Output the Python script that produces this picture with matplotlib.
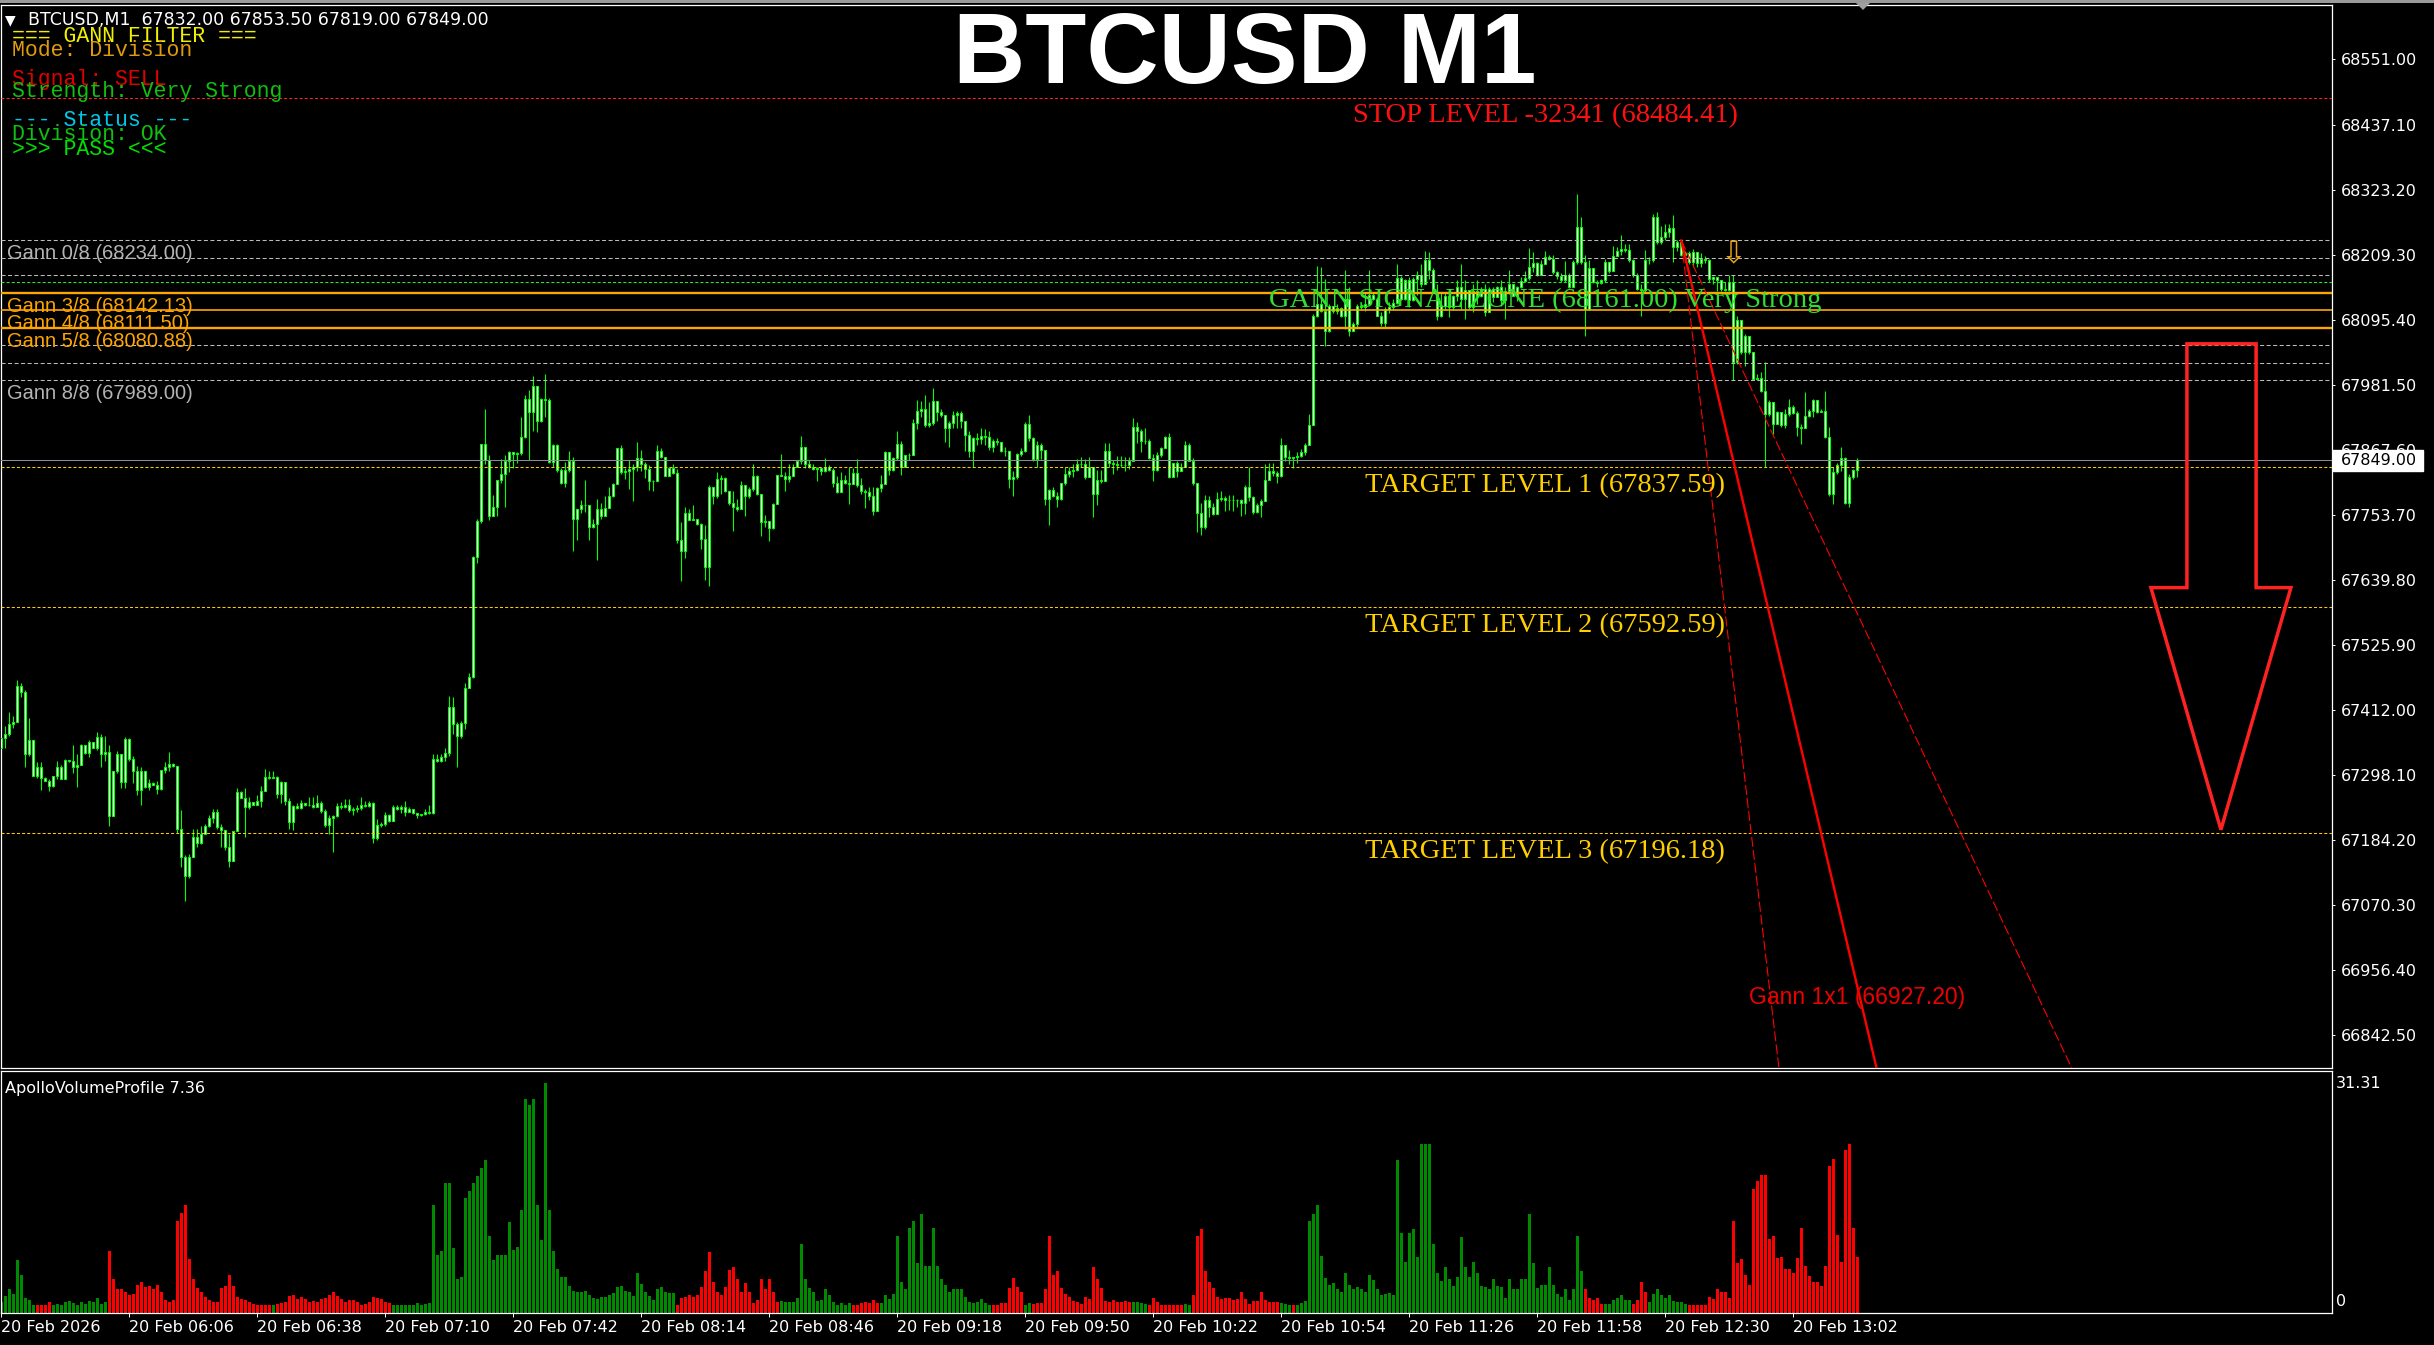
import numpy as np
import matplotlib
matplotlib.use("Agg")
import matplotlib.pyplot as plt
import matplotlib.transforms as mtransforms
from matplotlib.patches import Polygon, Rectangle

plt.rcParams["font.family"] = "DejaVu Sans"
plt.rcParams["lines.scale_dashes"] = False

# ---------------- data ----------------
symbol = "BTCUSD"
timeframe = "M1"
last_ohlc = [67832.00, 67853.50, 67819.00, 67849.00]
first_open = 67345

# one value per M1 bar, 05:34 -> 13:18
closes = [
    67363, 67369, 67387, 67390, 67453, 67444, 67335, 67360, 67296, 67311,
    67293, 67288, 67278, 67296, 67312, 67290, 67325, 67322, 67311, 67316,
    67351, 67337, 67355, 67346, 67364, 67334, 67338, 67226, 67305, 67334,
    67286, 67361, 67326, 67305, 67272, 67305, 67276, 67284, 67281, 67274,
    67306, 67312, 67317, 67314, 67203, 67154, 67121, 67154, 67190, 67178,
    67195, 67209, 67222, 67233, 67206, 67201, 67172, 67147, 67200, 67268,
    67258, 67242, 67250, 67246, 67252, 67270, 67295, 67292, 67295, 67264,
    67286, 67252, 67215, 67244, 67240, 67249, 67245, 67246, 67242, 67248,
    67234, 67210, 67222, 67226, 67243, 67241, 67246, 67236, 67239, 67240,
    67246, 67244, 67248, 67187, 67210, 67212, 67228, 67218, 67241, 67238,
    67241, 67233, 67239, 67232, 67227, 67229, 67233, 67231, 67326, 67323,
    67329, 67337, 67417, 67387, 67366, 67389, 67451, 67470, 67680, 67743,
    67877, 67849,
    67752, 67768, 67815, 67825, 67847, 67863, 67860, 67862,
    67890, 67957, 67933, 67980, 67918, 67957, 67955, 67846, 67875, 67832,
    67810, 67832, 67847, 67747, 67764, 67771, 67771, 67732, 67737, 67764,
    67752, 67766, 67787, 67808, 67870, 67828, 67831, 67834, 67838, 67853,
    67842, 67834, 67813, 67812, 67865, 67855, 67821, 67836, 67827, 67710,
    67690, 67757, 67745, 67747, 67737, 67711, 67662, 67803, 67786, 67817,
    67818, 67795, 67774, 67767, 67763, 67805, 67786, 67799, 67822, 67790,
    67741, 67742, 67730, 67773, 67824, 67822, 67816, 67822, 67837, 67847,
    67873, 67842, 67838, 67834, 67836, 67831, 67837, 67832, 67809, 67794,
    67814, 67809, 67808, 67827, 67805, 67795, 67794, 67787, 67761, 67800,
    67808, 67863, 67832, 67853, 67878, 67838, 67859, 67859, 67915, 67935,
    67938, 67910, 67914, 67953, 67933, 67928, 67905, 67914, 67929, 67932,
    67917, 67894, 67865, 67888, 67886, 67892, 67889, 67872, 67883, 67881,
    67866, 67865, 67816, 67820, 67860, 67865, 67913, 67888, 67851, 67876,
    67867, 67781, 67797, 67787, 67781, 67809, 67825, 67831, 67832, 67843,
    67843, 67819, 67837, 67790, 67814, 67813, 67865, 67844, 67843, 67841,
    67841, 67840, 67848, 67907, 67900, 67882, 67883, 67853, 67832, 67859,
    67871, 67890, 67819, 67844, 67831, 67838, 67875, 67848, 67810, 67757,
    67732, 67779, 67768, 67755, 67781, 67783, 67779, 67779, 67780, 67779,
    67774, 67803, 67785, 67758, 67771, 67778, 67814, 67831, 67826, 67822,
    67875, 67854, 67853, 67854, 67857, 67863, 67876, 67911, 68102, 68123,
    68111, 68076, 68120, 68111, 68116, 68102, 68132, 68076, 68087, 68120,
    68118, 68123, 68139, 68132, 68102, 68089, 68114, 68117, 68124, 68168,
    68132, 68164, 68129, 68167, 68174, 68158, 68199, 68182, 68143, 68102,
    68120, 68137, 68117, 68137, 68152, 68132, 68147, 68117, 68146, 68137,
    68149, 68108, 68149, 68135, 68152, 68129, 68146, 68158, 68137, 68152,
    68163, 68168, 68187, 68194, 68173, 68193, 68205, 68202, 68178, 68171,
    68165, 68174, 68153, 68196, 68258, 68196, 68114, 68186, 68161, 68159,
    68164, 68196, 68180, 68206, 68216, 68219, 68218, 68199, 68173, 68149,
    68147, 68199, 68199, 68275, 68231, 68240, 68248, 68255, 68222, 68231,
    68208, 68212, 68196, 68213, 68194, 68202, 68199, 68167, 68170, 68165,
    68149, 68147, 68161, 68021, 68094, 68038, 68066, 68038, 67991, 67994,
    67970, 67930, 67951, 67913, 67933, 67910, 67930, 67942, 67931, 67907,
    67906, 67927, 67936, 67954, 67933, 67936, 67889, 67790, 67829, 67840,
    67853, 67775, 67820, 67832, 67849,
]

highs = [
    67363, 67384, 67408, 67402, 67465, 67459, 67447, 67398, 67360, 67320,
    67320, 67294, 67290, 67296, 67323, 67316, 67326, 67325, 67351, 67335,
    67352, 67349, 67360, 67352, 67373, 67369, 67367, 67351, 67305, 67340,
    67334, 67364, 67363, 67331, 67314, 67311, 67303, 67290, 67286, 67287,
    67306, 67320, 67338, 67318, 67311, 67236, 67157, 67159, 67203, 67204,
    67209, 67212, 67227, 67239, 67239, 67212, 67197, 67194, 67200, 67275,
    67269, 67275, 67260, 67250, 67262, 67278, 67308, 67305, 67304, 67296,
    67288, 67285, 67257, 67245, 67248, 67254, 67249, 67260, 67260, 67262,
    67252, 67239, 67228, 67228, 67248, 67250, 67256, 67256, 67241, 67245,
    67260, 67252, 67252, 67251, 67221, 67215, 67233, 67230, 67245, 67245,
    67245, 67252, 67242, 67239, 67232, 67230, 67239, 67245, 67334, 67335,
    67335, 67345, 67437, 67435, 67390, 67393, 67459, 67477, 67681, 67746,
    67877, 67939,
    67859, 67789, 67815, 67852, 67858, 67865, 67862, 67863,
    67925, 67963, 67973, 67996, 67980, 67959, 68001, 67959, 67878, 67878,
    67836, 67846, 67865, 67855, 67764, 67779, 67815, 67767, 67747, 67782,
    67774, 67786, 67802, 67809, 67871, 67875, 67836, 67849, 67843, 67881,
    67867, 67846, 67840, 67815, 67875, 67871, 67855, 67838, 67842, 67834,
    67741, 67768, 67764, 67770, 67747, 67739, 67735, 67805, 67803, 67829,
    67824, 67820, 67796, 67795, 67782, 67813, 67804, 67802, 67843, 67824,
    67790, 67754, 67743, 67774, 67824, 67860, 67828, 67843, 67842, 67849,
    67891, 67873, 67850, 67842, 67838, 67838, 67853, 67840, 67836, 67821,
    67828, 67823, 67837, 67836, 67852, 67818, 67799, 67802, 67802, 67803,
    67824, 67865, 67862, 67855, 67900, 67883, 67859, 67862, 67922, 67954,
    67953, 67963, 67951, 67976, 67953, 67938, 67928, 67917, 67935, 67936,
    67936, 67918, 67901, 67889, 67896, 67906, 67904, 67900, 67886, 67888,
    67880, 67872, 67866, 67831, 67861, 67871, 67916, 67929, 67889, 67882,
    67879, 67865, 67799, 67803, 67793, 67810, 67837, 67837, 67843, 67851,
    67855, 67851, 67855, 67838, 67832, 67832, 67880, 67879, 67850, 67857,
    67857, 67855, 67855, 67923, 67916, 67904, 67906, 67886, 67860, 67863,
    67872, 67892, 67896, 67845, 67848, 67844, 67882, 67880, 67853, 67807,
    67774, 67789, 67787, 67774, 67793, 67796, 67787, 67789, 67788, 67781,
    67781, 67805, 67838, 67787, 67775, 67781, 67843, 67844, 67844, 67830,
    67888, 67875, 67867, 67855, 67863, 67869, 67880, 67930, 68105, 68190,
    68188, 68167, 68123, 68118, 68123, 68117, 68182, 68152, 68091, 68123,
    68126, 68143, 68182, 68142, 68135, 68108, 68117, 68126, 68132, 68193,
    68171, 68167, 68170, 68170, 68181, 68193, 68215, 68213, 68186, 68158,
    68143, 68142, 68140, 68139, 68164, 68192, 68164, 68146, 68158, 68164,
    68153, 68158, 68152, 68153, 68155, 68164, 68152, 68182, 68158, 68155,
    68170, 68181, 68221, 68213, 68196, 68199, 68215, 68208, 68208, 68181,
    68177, 68198, 68177, 68199, 68316, 68275, 68208, 68199, 68186, 68164,
    68167, 68202, 68196, 68225, 68222, 68243, 68228, 68228, 68202, 68177,
    68158, 68218, 68205, 68281, 68284, 68260, 68263, 68263, 68279, 68235,
    68234, 68215, 68215, 68219, 68206, 68212, 68206, 68202, 68171, 68170,
    68164, 68161, 68173, 68173, 68102, 68093, 68071, 68067, 68038, 68000,
    68003, 68021, 67954, 67947, 67936, 67933, 67939, 67956, 67945, 67936,
    67913, 67968, 67939, 67956, 67954, 67939, 67971, 67907, 67837, 67845,
    67872, 67855, 67825, 67834, 67853.5,
]

lows = [
    67345, 67345, 67366, 67381, 67390, 67435, 67312, 67332, 67296, 67293,
    67272, 67287, 67269, 67276, 67290, 67290, 67290, 67320, 67302, 67277,
    67316, 67335, 67329, 67345, 67341, 67312, 67323, 67209, 67226, 67302,
    67275, 67275, 67323, 67284, 67263, 67246, 67275, 67272, 67280, 67264,
    67272, 67302, 67305, 67311, 67197, 67136, 67077, 67118, 67157, 67172,
    67177, 67194, 67207, 67213, 67203, 67171, 67166, 67136, 67147, 67203,
    67257, 67190, 67239, 67245, 67248, 67241, 67269, 67290, 67292, 67258,
    67248, 67245, 67204, 67201, 67239, 67238, 67244, 67244, 67240, 67244,
    67232, 67207, 67194, 67163, 67224, 67239, 67240, 67233, 67227, 67233,
    67237, 67242, 67242, 67178, 67184, 67207, 67209, 67216, 67219, 67236,
    67232, 67226, 67233, 67230, 67222, 67226, 67227, 67229, 67230, 67320,
    67320, 67323, 67332, 67369, 67311, 67363, 67379, 67450, 67468, 67669,
    67740, 67843,
    67745, 67751, 67752, 67809, 67767, 67828, 67836, 67844,
    67859, 67888, 67850, 67901, 67898, 67916, 67925, 67844, 67837, 67828,
    67808, 67802, 67828, 67690, 67710, 67756, 67758, 67709, 67731, 67674,
    67747, 67751, 67766, 67785, 67807, 67825, 67817, 67798, 67778, 67830,
    67831, 67818, 67797, 67796, 67813, 67853, 67821, 67821, 67825, 67704,
    67637, 67678, 67744, 67744, 67735, 67694, 67639, 67628, 67773, 67783,
    67790, 67793, 67770, 67725, 67760, 67763, 67752, 67783, 67796, 67789,
    67716, 67733, 67707, 67729, 67773, 67821, 67796, 67811, 67821, 67837,
    67843, 67836, 67836, 67832, 67813, 67823, 67828, 67830, 67803, 67792,
    67795, 67807, 67772, 67807, 67803, 67790, 67766, 67779, 67754, 67761,
    67793, 67807, 67824, 67831, 67850, 67824, 67838, 67850, 67862, 67903,
    67924, 67908, 67908, 67910, 67918, 67925, 67881, 67872, 67906, 67906,
    67906, 67865, 67854, 67838, 67875, 67878, 67875, 67867, 67863, 67875,
    67863, 67857, 67800, 67787, 67816, 67857, 67863, 67883, 67848, 67837,
    67851, 67771, 67736, 67784, 67767, 67779, 67805, 67819, 67820, 67830,
    67837, 67816, 67819, 67749, 67770, 67810, 67814, 67838, 67825, 67832,
    67838, 67831, 67834, 67847, 67879, 67863, 67878, 67851, 67813, 67830,
    67854, 67871, 67818, 67819, 67820, 67830, 67838, 67847, 67805, 67723,
    67719, 67729, 67749, 67753, 67758, 67778, 67761, 67762, 67761, 67768,
    67752, 67755, 67778, 67755, 67756, 67749, 67777, 67816, 67822, 67810,
    67819, 67848, 67843, 67836, 67844, 67855, 67859, 67875, 67913, 68100,
    68108, 68050, 68073, 68107, 68105, 68100, 68079, 68066, 68076, 68082,
    68114, 68111, 68122, 68129, 68101, 68085, 68083, 68107, 68112, 68123,
    68129, 68130, 68117, 68128, 68138, 68152, 68173, 68167, 68142, 68094,
    68100, 68112, 68100, 68112, 68128, 68114, 68097, 68114, 68108, 68123,
    68135, 68102, 68108, 68126, 68135, 68120, 68097, 68140, 68136, 68128,
    68151, 68163, 68164, 68178, 68171, 68173, 68193, 68199, 68175, 68167,
    68161, 68161, 68151, 68152, 68193, 68193, 68067, 68112, 68159, 68152,
    68158, 68161, 68177, 68181, 68209, 68208, 68213, 68196, 68170, 68147,
    68102, 68143, 68193, 68196, 68228, 68228, 68234, 68240, 68196, 68216,
    68206, 68196, 68193, 68188, 68188, 68187, 68194, 68161, 68158, 68146,
    68146, 68145, 68145, 67989, 68018, 68035, 68015, 68036, 67989, 67989,
    67968, 67838, 67927, 67895, 67917, 67908, 67906, 67927, 67930, 67892,
    67878, 67906, 67924, 67925, 67931, 67933, 67888, 67787, 67772, 67825,
    67831, 67772, 67767, 67816, 67819,
]

volumes = [
    1.5, 2.2, 3.1, 2.5, 7.0, 5.0, 2.0, 1.7, 1.1, 1.0,
    1.1, 1.1, 1.4, 1.1, 1.2, 1.1, 1.4, 1.6, 1.3, 1.1,
    1.4, 1.2, 1.6, 1.5, 2.0, 1.2, 1.4, 8.1, 4.5, 3.1,
    3.1, 2.7, 2.3, 2.5, 3.7, 4.0, 3.4, 3.5, 3.1, 3.7,
    2.8, 1.7, 1.4, 1.7, 12.1, 13.1, 14.2, 7.1, 4.4, 3.3,
    2.7, 2.1, 1.7, 1.5, 1.5, 3.3, 3.6, 5.0, 3.6, 2.1,
    1.8, 1.7, 1.4, 1.2, 1.1, 1.0, 1.0, 1.0, 1.1, 1.2,
    1.3, 1.5, 2.2, 2.3, 1.8, 2.1, 1.8, 1.4, 1.6, 1.4,
    1.8, 2.0, 2.3, 2.8, 2.2, 1.8, 1.4, 1.7, 1.7, 1.4,
    1.1, 1.2, 1.4, 2.1, 2.0, 1.8, 1.4, 1.3, 1.1, 1.1,
    1.1, 1.1, 1.1, 1.0, 1.3, 1.1, 1.2, 1.3, 14.1, 7.6,
    8.1, 17.0, 17.0, 8.5, 4.4, 4.7, 15.1, 16.0, 17.0, 18.0,
    19.0, 20.0, 10.1, 7.0, 7.6, 7.6, 7.6, 11.9, 8.3, 8.7,
    13.5, 28.1, 27.2, 28.1, 14.1, 9.6, 30.1, 13.5, 8.1, 5.7,
    4.7, 4.7, 3.5, 2.9, 2.7, 2.8, 2.9, 2.3, 2.0, 1.8,
    2.1, 2.1, 2.3, 2.6, 3.4, 3.6, 2.9, 2.8, 2.2, 5.2,
    3.8, 2.8, 2.2, 1.7, 3.1, 3.4, 2.8, 2.6, 2.6, 1.0,
    2.0, 2.1, 2.3, 2.1, 2.3, 3.4, 5.5, 8.0, 4.0, 2.8,
    2.3, 3.4, 5.6, 6.0, 4.4, 2.8, 3.9, 2.8, 1.3, 1.7,
    4.5, 3.1, 4.5, 2.7, 1.5, 1.6, 1.4, 1.4, 1.4, 2.0,
    9.1, 4.5, 3.3, 2.7, 1.6, 1.7, 3.1, 2.3, 1.5, 1.1,
    1.3, 1.1, 1.3, 1.0, 1.1, 1.3, 1.5, 1.3, 1.7, 1.3,
    1.3, 2.3, 1.8, 2.5, 10.1, 4.1, 3.1, 11.1, 12.1, 6.6,
    13.0, 6.1, 6.1,
    11.1, 6.1, 4.4, 3.7, 2.8, 3.1, 3.1, 3.1, 2.1, 1.4,
    1.3, 1.4, 1.8, 1.3, 1.1, 1.1, 1.1, 1.3, 1.3, 3.3,
    4.6, 3.4, 2.8, 1.0, 1.3, 1.2, 1.3, 1.3, 3.1, 10.1,
    5.0, 5.5, 3.3, 2.5, 2.1, 1.6, 1.5, 1.2, 2.1, 1.8,
    6.0, 4.4, 3.3, 1.6, 1.5, 1.7, 1.5, 1.4, 1.6, 1.5,
    1.4, 1.4, 1.3, 1.2, 1.0, 2.0, 1.5, 1.1, 1.1, 1.1,
    1.1, 1.1, 1.0, 1.2, 1.1, 2.3, 10.1, 11.0, 5.5, 4.0,
    3.3, 2.1, 1.8, 2.0, 2.0, 1.7, 1.8, 2.8, 1.8, 1.2,
    1.6, 1.6, 2.8, 1.7, 1.5, 1.4, 1.4, 1.3, 1.2, 1.1,
    1.0, 1.1, 1.3, 1.6, 12.1, 13.0, 14.1, 7.5, 4.6, 3.7,
    3.9, 3.1, 2.8, 5.2, 3.7, 3.1, 3.4, 3.1, 2.8, 5.0,
    4.3, 3.1, 2.4, 2.5, 2.6, 2.4, 20.1, 10.5, 6.7, 10.5,
    11.0, 7.4, 22.1, 22.1, 22.1, 9.1, 5.2, 4.2, 6.0, 4.4,
    3.6, 4.7, 10.0, 6.0, 4.7, 6.7, 5.2, 3.6, 3.4, 3.1,
    4.5, 3.5, 3.4, 2.0, 4.4, 3.1, 3.2, 4.4, 4.4, 13.0,
    6.5, 3.3, 3.7, 3.7, 6.0, 3.7, 2.5, 2.1, 3.1, 1.7,
    3.1, 10.1, 5.5, 3.1, 2.0, 1.7, 2.0, 1.2, 1.2, 1.2,
    1.7, 2.0, 2.3, 1.7, 1.7, 1.2, 1.7, 4.0, 2.8, 1.4,
    2.5, 3.1, 2.3, 2.0, 2.3, 1.6, 1.5, 1.4, 1.2, 1.0,
    1.1, 1.1, 1.1, 1.1, 2.1, 1.8, 3.1, 2.7, 2.7, 2.0,
    12.1, 6.6, 7.1, 5.0, 3.7, 16.2, 17.3, 18.1, 18.1, 9.7,
    10.1, 7.2, 7.4, 5.8, 5.8, 5.2, 7.2, 11.1, 6.1, 4.8,
    4.0, 4.0, 3.6, 6.1, 19.2, 20.2, 10.2, 6.7, 21.3, 22.2,
    11.1, 7.3,
]

# volume bar colours as runs (count, colour)
vol_color_runs = [
    (9, "g"), (4, "r"), (14, "g"), (41, "r"), (1, "g"), (29, "r"), (71, "g"),
    (26, "r"), (18, "g"), (7, "r"), (13, "g"),
    (15, "g"), (8, "r"), (2, "g"), (25, "r"), (4, "g"), (9, "r"), (2, "g"),
    (22, "r"), (3, "g"), (1, "r"), (72, "g"), (5, "r"), (7, "g"), (4, "r"),
    (10, "g"), (43, "r"),
]

time_labels = ["20 Feb 2026", "20 Feb 06:06", "20 Feb 06:38", "20 Feb 07:10",
               "20 Feb 07:42", "20 Feb 08:14", "20 Feb 08:46", "20 Feb 09:18",
               "20 Feb 09:50", "20 Feb 10:22", "20 Feb 10:54", "20 Feb 11:26",
               "20 Feb 11:58", "20 Feb 12:30", "20 Feb 13:02"]
bars_per_label = 32

price_ticks = [68551.00, 68437.10, 68323.20, 68209.30, 68095.40, 67981.50,
               67867.60, 67753.70, 67639.80, 67525.90, 67412.00, 67298.10,
               67184.20, 67070.30, 66956.40, 66842.50]
vol_top_label = 31.31

gann_levels = [68234.00, 68203.38, 68172.75, 68142.13, 68111.50,
               68080.88, 68050.25, 68019.63, 67989.00]
gann_labeled = [0, 3, 4, 5, 8]
signal_zone = 68161.00
signal_strength = "Very Strong"
stop_level = 68484.41
stop_points = -32341
targets = [67837.59, 67592.59, 67196.18]
current_price = 67849.00

fan_origin_bar = 420
fan_origin_price = 68234.00
fan_1x1_value = 66927.20
fan_slopes = [-29.7, -59.4, -14.85]     # 1x1, 2x1, 1x2 (price per bar)
signal_bar = 433
label_bar = 386

# big sell arrow outline (bar, price)
arrow_x = [546.4, 563.7, 563.7, 572.4, 554.9, 537.4, 546.4]
arrow_y = [68053, 68053, 67626, 67626, 67202, 67626, 67626]

panel_lines = [
    ("=== GANN FILTER ===", "#f0f000"),
    ("Mode: Division", "#e09a10"),
    ("Signal: SELL", "#e00000"),
    ("Strength: Very Strong", "#10c010"),
    ("--- Status ---", "#00c8e8"),
    ("Division: OK", "#10c010"),
    (">>> PASS <<<", "#00e000"),
]

# ---------------- figure ----------------
W, H = 2434, 1345
DPI = 100
fig = plt.figure(figsize=(W / DPI, H / DPI), dpi=DPI, facecolor="black")


def fpos(x0, y0, x1, y1):
    return [x0 / W, 1 - y1 / H, (x1 - x0) / W, (y1 - y0) / H]


ax = fig.add_axes(fpos(1, 4.5, 2332, 1068))
ax2 = fig.add_axes(fpos(1, 1071, 2332, 1313))
for a in (ax, ax2):
    a.set_facecolor("black")
    for s in a.spines.values():
        s.set_color("white")
        s.set_linewidth(0.9)
    a.set_xlim(-0.08, 582.67)

ax.set_ylim(66784.7, 68647.3)

n = min(len(closes), len(highs), len(lows))
x = np.arange(n)
c = np.array(closes[:n], dtype=float)
o = np.concatenate([[first_open], c[:-1]])
hi = np.maximum(np.array(highs[:n], dtype=float), np.maximum(o, c))
lo = np.minimum(np.array(lows[:n], dtype=float), np.minimum(o, c))

candle_green = "#00ff00"
ax.vlines(x, lo, hi, color=candle_green, linewidth=0.8, zorder=2)
ax.bar(x, np.abs(c - o), bottom=np.minimum(o, c), width=0.5,
       facecolor="white", edgecolor=candle_green, linewidth=0.75, zorder=3)

# horizontal levels
for i, lvl in enumerate(gann_levels):
    if i in (3, 4, 5):
        ax.axhline(lvl, color="#ffa500", linewidth=1.2 if i == 4 else 1.7, zorder=4)
    else:
        ax.axhline(lvl, color="#bcbcbc", linewidth=0.75, linestyle=(0, (2.9, 1.8)), zorder=4)

ax.axhline(signal_zone, color="#22ee22", linewidth=0.75, linestyle=(0, (2.2, 1.5)), zorder=4)
ax.axhline(stop_level, color="#ff2020", linewidth=0.75, linestyle=(0, (2.2, 1.5)), zorder=4)
for t in targets:
    ax.axhline(t, color="#ffcc00", linewidth=0.75, linestyle=(0, (2.2, 1.5)), zorder=4)
ax.axhline(current_price, color="#8a8c98", linewidth=0.75, zorder=4)

blend = mtransforms.blended_transform_factory(ax.transAxes, ax.transData)
for i in gann_labeled:
    col = "#ffa500" if i in (3, 4, 5) else "#b4b4b4"
    ax.annotate(f"Gann {i}/8 ({gann_levels[i]:.2f})", xy=(0, gann_levels[i]), xycoords=blend,
                xytext=(6, -19), textcoords="offset pixels", ha="left", va="baseline",
                fontsize=14.5, family="Liberation Sans", color=col, zorder=6)

serif = dict(family="Liberation Serif", fontsize=20.5, ha="center", va="baseline", zorder=7)
ax.annotate(f"STOP LEVEL {stop_points} ({stop_level:.2f})", xy=(label_bar, stop_level),
            xytext=(0, -25), textcoords="offset pixels", color="#ff1010", **serif)
ax.annotate(f"GANN SIGNAL ZONE ({signal_zone:.2f}) {signal_strength}", xy=(label_bar, signal_zone),
            xytext=(0, -25), textcoords="offset pixels", color="#33dd33", **serif)
for k, t in enumerate(targets):
    ax.annotate(f"TARGET LEVEL {k + 1} ({t:.2f})", xy=(label_bar, t),
                xytext=(0, -25), textcoords="offset pixels", color="#ffd000", **serif)

# gann fan
fx = np.array([fan_origin_bar, 600])
styles = ["-", (0, (7.2, 2.2)), (0, (7.2, 2.2))]
widths = [1.7, 0.8, 0.8]
for sl, ls, lw in zip(fan_slopes, styles, widths):
    ax.plot(fx, fan_origin_price + sl * (fx - fan_origin_bar), color="#ff0000",
            linestyle=ls, linewidth=lw, zorder=5)
ax.annotate(f"Gann 1x1 ({fan_1x1_value:.2f})", xy=(n - 1, fan_1x1_value),
            xytext=(0, -17), textcoords="offset pixels", ha="center", va="baseline",
            fontsize=16.5, family="Liberation Sans", color="#ee0000", zorder=7)

# signal arrow above the sell bar
ax.annotate("\u21e9", xy=(signal_bar, hi[signal_bar]), xytext=(0, 6), textcoords="offset pixels",
            ha="center", va="bottom", fontsize=22, color="#e8a317", zorder=7)

# big sell arrow
ax.add_patch(Polygon(list(zip(arrow_x, arrow_y)), closed=True, fill=False,
                     edgecolor="#ff2222", linewidth=2.5, zorder=6, clip_on=False))

# right price axis
ax.set_xticks([])
ax.yaxis.tick_right()
ax.set_yticks(price_ticks)
ax.set_yticklabels([f"{v:.2f}" for v in price_ticks])
ax.tick_params(axis="y", colors="white", length=2.2, width=0.7, pad=4.2, labelsize=11.5)

# current price box
ax.add_patch(Rectangle((1 + 1 / 2331, current_price - 10.5 * 1.7514), 90 / 2331, 21 * 1.7514,
                       transform=blend, facecolor="white", edgecolor="white",
                       clip_on=False, zorder=8))
ax.annotate(f"{current_price:.2f}", xy=(1, current_price), xycoords=blend,
            xytext=(9, 0), textcoords="offset pixels", ha="left", va="center",
            fontsize=11.5, color="black", zorder=9, annotation_clip=False)

# volume panel
colors = []
for cnt, col in vol_color_runs:
    colors += [("#008a00" if col == "g" else "#ff0000")] * cnt
nv = min(len(volumes), len(colors), n)
ax2.bar(np.arange(nv), volumes[:nv], width=0.68, color=colors[:nv], linewidth=0)
ax2.set_ylim(0, vol_top_label * 242 / 239)
ax2.set_yticks([])
ticks = [i * bars_per_label for i in range(len(time_labels))]
ax2.set_xticks(ticks)
ax2.set_xticklabels(time_labels, ha="left")
ax2.tick_params(axis="x", colors="white", length=3, width=0.7, pad=2, labelsize=11.5)

vblend = mtransforms.blended_transform_factory(ax2.transAxes, ax2.transAxes)
ax2.annotate(f"{vol_top_label:.2f}", xy=(1, 1), xycoords=vblend, xytext=(4, -13),
             textcoords="offset pixels", ha="left", va="center", fontsize=11.5,
             color="white", annotation_clip=False)
ax2.annotate("0", xy=(1, 0), xycoords=vblend, xytext=(4, 11),
             textcoords="offset pixels", ha="left", va="center", fontsize=11.5,
             color="white", annotation_clip=False)
ax2.annotate("ApolloVolumeProfile 7.36", xy=(0, 1), xycoords=vblend, xytext=(4, -22),
             textcoords="offset pixels", ha="left", va="baseline", fontsize=11.5,
             color="white")


def ptext(px, py, s, **kw):
    fig.text(px / W, 1 - py / H, s, va="baseline", **kw)


# window frame bits
fig.add_artist(Rectangle((0, 1 - 2.5 / H), 1, 2.5 / H, transform=fig.transFigure,
                         facecolor="#9a9a9a", edgecolor="none"))
fig.add_artist(Polygon([(1856 / W, 1 - 3 / H), (1870 / W, 1 - 3 / H), (1863 / W, 1 - 10 / H)],
                       closed=True, transform=fig.transFigure, facecolor="#a0a0a0",
                       edgecolor="none"))

# header + title
ptext(5, 24, "\u25bc", color="white", fontsize=10)
ptext(28, 25, f"{symbol},{timeframe}  " + " ".join(f"{v:.2f}" for v in last_ohlc),
      color="white", fontsize=12.5)
ptext(1244.5, 83, f"{symbol} {timeframe}", ha="center", color="white", fontsize=72,
      fontweight="bold", family="Liberation Sans")

baselines = [42.5, 56.5, 84.5, 97.5, 126.5, 140.5, 155]
for (txt, col), yb in zip(panel_lines, baselines):
    ptext(11.5, yb, txt, color=col, fontsize=15.5, family="Liberation Mono")

fig.savefig("out.png", dpi=DPI, facecolor="black")
